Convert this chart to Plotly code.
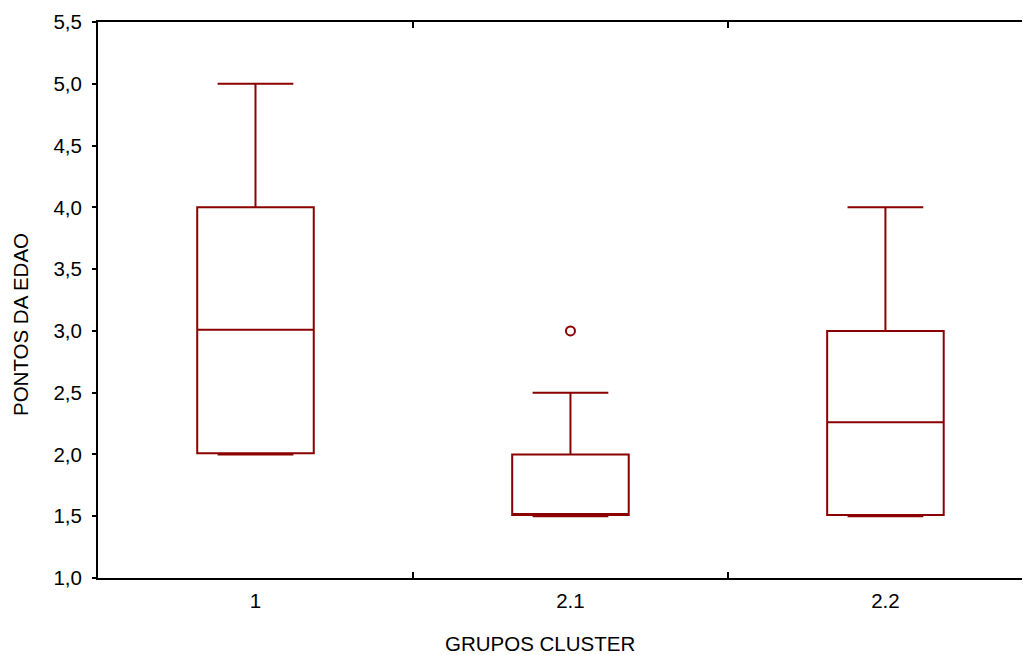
import plotly.graph_objects as go

categories = ["1", "2.1", "2.2"]
q1_vals = [2.01, 1.51, 1.51]
median_vals = [3.01, 1.51, 2.26]
q3_vals = [4.0, 2.0, 3.0]
lower_vals = [2.0, 1.5, 1.5]
upper_vals = [5.0, 2.5, 4.0]
outlier_cat = ["2.1"]
outlier_vals = [3.0]
y_ticks = [1.0, 1.5, 2.0, 2.5, 3.0, 3.5, 4.0, 4.5, 5.0, 5.5]
x_title = "GRUPOS CLUSTER"
y_title = "PONTOS DA EDAO"

pos = list(range(len(categories)))
cat_pos = {c: i for i, c in enumerate(categories)}

RED = "#8B0000"
FONT = "Liberation Sans, Arial, sans-serif"

fig = go.Figure()
fig.add_trace(go.Box(
    x=pos, q1=q1_vals, median=median_vals, q3=q3_vals,
    lowerfence=lower_vals, upperfence=upper_vals,
    width=0.37, whiskerwidth=0.65,
    line=dict(color=RED, width=2), fillcolor="white",
    boxpoints=False, showlegend=False, hoverinfo="skip",
))
fig.add_trace(go.Scatter(
    x=[cat_pos[c] for c in outlier_cat], y=outlier_vals, mode="markers",
    marker=dict(symbol="circle-open", size=9, color=RED, line=dict(width=2, color=RED)),
    showlegend=False, hoverinfo="skip",
))

fig.update_layout(
    width=1022, height=647,
    margin=dict(l=90, r=0, t=14, b=77),
    paper_bgcolor="white", plot_bgcolor="white",
    separators=",.",
    font=dict(family=FONT, size=20.5, color="black"),
    xaxis=dict(
        range=[-0.5, 2.459], showgrid=False, zeroline=False, automargin=False,
        tickmode="array", tickvals=pos, ticktext=categories, ticks="",
        ticklabelstandoff=3,
        minor=dict(tickmode="array", tickvals=[0.5, 1.5], ticks="inside", ticklen=6,
                   tickwidth=2, tickcolor="black", showgrid=False),
        showline=True, linecolor="black", linewidth=2, mirror="ticks",
    ),
    yaxis=dict(
        range=[1.0, 5.5], showgrid=False, zeroline=False, automargin=False,
        tickmode="array", tickvals=y_ticks, tickformat=".1f",
        ticks="outside", ticklen=4, tickwidth=2, tickcolor="black",
        ticklabelstandoff=6,
        showline=True, linecolor="black", linewidth=2,
    ),
    annotations=[
        dict(text=x_title, xref="paper", yref="paper", x=0.4742, y=0,
             xanchor="center", yanchor="middle", yshift=-65, showarrow=False,
             font=dict(size=20.5)),
        dict(text=y_title, xref="paper", yref="paper", x=0, y=0.455,
             xanchor="center", yanchor="middle", xshift=-78, textangle=-90,
             showarrow=False, font=dict(size=20.5)),
    ],
)

fig.write_html("out.html")
